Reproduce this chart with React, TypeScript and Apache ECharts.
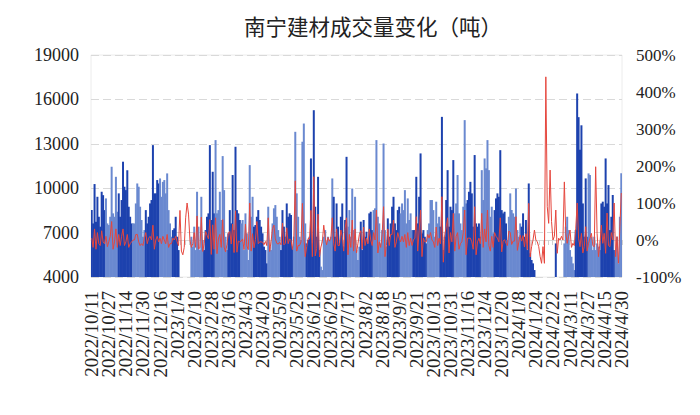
import React, { useEffect, useRef } from 'react';
import * as echarts from 'echarts';

const tickLabels = [
  '2022/10/11', '2022/10/27', '2022/11/14', '2022/11/30', '2022/12/16', '2023/1/4', '2023/2/10', '2023/2/28',
  '2023/3/16', '2023/4/3', '2023/4/20', '2023/5/9', '2023/5/25', '2023/6/12', '2023/6/29', '2023/7/17',
  '2023/8/2', '2023/8/18', '2023/9/5', '2023/9/21', '2023/10/13', '2023/10/31', '2023/11/16', '2023/12/4',
  '2023/12/20', '2024/1/8', '2024/1/24', '2024/2/22', '2024/3/11', '2024/3/27', '2024/4/15', '2024/4/30',
];

// daily volume (tons)
const volume = [
  8520, 7620, 10280, 7730, 9420, 8070, 7400, 9760, 9530, 8520,
  9310, 7620, 7510, 8070, 11450, 8300, 8070, 10770, 8410,
  9650, 8070, 9200, 11790, 10100, 9870, 11220, 8750, 8070, 7620,
  7620, 7620, 8970, 10320, 10100, 8750, 7850, 6720, 7170,
  8520, 7620, 8070, 8970, 9200, 12910, 9650, 9650, 10550, 10320,
  10660, 9420, 10430, 10550, 9650, 11000, 8520, 7620, 6720,
  7170, 7290, 8070, 6720, 5820,
  3300, 2300, 1400, 1200, 2000, 3600, 3000, 3500,
  6720, 6050, 7400, 5820, 9760, 7400, 5820, 9420, 6500,
  5820, 7170, 8070, 8300, 12910, 7850, 11110, 8300,
  13250, 8300, 8520, 9760, 7850, 12170, 9870, 6720, 5820,
  6950, 8520, 7620, 10890, 7170, 12800, 8520, 8300, 7850,
  7620, 7850, 5820, 8300, 6950, 5150, 11560, 8070, 9420,
  7400, 7510, 8070, 8520, 7850, 7400, 6950, 6050, 5820, 4920,
  8750, 6050, 5820, 7620, 8640, 8860, 8070, 7170, 6720,
  5820, 8520, 7400, 6720, 8970, 8070, 8300, 8190, 6050,
  6720, 13810, 9650, 8070, 6720, 6500, 13140, 14370, 7620,
  6270, 6500, 6720, 12010, 6270, 15270, 8750, 6720, 10770, 5820,
  4700, 4470, 6720, 7170, 6270, 6720, 6500, 6720, 10660,
  9420, 6720, 8970, 7400, 6270, 8070, 8970, 6050, 7850, 12120,
  7400, 8520, 6720, 9980, 7170, 9420, 5820, 5150, 6050,
  7740, 5820, 7850, 6720, 7060, 6270, 8300, 8410, 7170,
  8520, 8640, 13250, 8070, 7620, 6270, 7170, 13020, 7170, 6050,
  7960, 6720, 7620, 8750, 9420, 7620, 7170, 8520, 8750,
  8300, 8970, 8520, 9870, 7620, 9310, 7850, 8300, 7170,
  7170, 7170, 10770, 7620, 9420, 12350, 6950, 7170, 6720, 6270,
  7170, 7620, 9200, 9200, 8520, 6720, 9090, 7620, 8070,
  7400, 14820, 5820, 6720, 9200, 11220, 7400, 8750, 8520, 11900,
  8300, 8970, 10890, 8300, 7620, 7170, 8750, 14600, 8970,
  9200, 9760, 10430, 9650, 7400, 12240, 7620, 7400, 7620, 6720,
  11220, 9200, 12010, 11340, 13250, 11220, 8070, 8750, 6950,
  8520, 9310, 9650, 9420, 12570, 8520, 8300, 8410, 7620,
  6500, 8070, 9650, 8520, 8300, 8070, 9980, 7170, 6720, 7620,
  7400, 8300, 6720, 7850, 5820, 10320, 5600, 5150, 4920, 4470,
  3800, 3600, 3000, 1700, 600, 500, 200, 1100, 2000, 2900, 3500, 3700, 3600, 3400,
  6270,
  3600, 3700, 3500, 3600, 2500,
  6270, 7400, 8070, 7170, 5820, 5370, 4920, 4470,
  7170, 16400, 14800, 12600, 14250, 8970, 6720, 10660, 6720,
  11000, 10890, 6720, 5820, 6720, 5820, 6270, 6050, 5820,
  8970, 9090, 8750, 12010, 8970, 10210, 7170, 8070, 9540, 5820,
  5820, 6720, 4920, 8070, 11010,
];

// change (%)
const change = [
  5, -20, 30, -25, 20, -10, -15, 25, -5, -10, 10, -18,
  -5, 10, 50, -25, -5, 30, -20, 15, -15, 10, 30, -15,
  -5, 15, -20, -10, -5, 0, 0, 15, 15, -5, -15, -10,
  -15, 5, 20, -10, 5, 10, 0, 40, -25, 0, 10, -5,
  5, -10, 10, 0, -10, 15, -20, -10, -10, 5, 0, 10,
  -5, -15, 80, -30, -40, -20, 60, 100, 70, 0, -20, -10,
  20, -20, 65, -24, -21, 62, -31, -10, 23, 13, 3, 55,
  -39, 41, -25, 60, -37, 3, 15, -20, 55, -19, -32, -13,
  19, 23, -11, 43, -34, 79, -33, -3, -5, -3, 3, -26,
  43, -16, -26, 100, -30, 17, -21, 1, 50, -10, -5, -5,
  -6, -13, -4, -15, 60, -31, -4, 31, 40, 3, -9, -11,
  -6, -13, 46, -13, -9, 33, -10, 3, -1, -26, 11, 160,
  -30, -15, -15, -5, 99, 10, -45, -18, 4, 3, 80, -45,
  171, -43, -23, 70, -46, -19, -5, 40, 7, -13, 7, -3,
  5, 60, -10, -30, 30, -15, -15, 27, 10, -30, 30, 60,
  -40, 15, -20, 54, -30, 30, -35, -10, 15, 25, -25, 35,
  -15, 5, -10, 30, 0, -15, 20, 0, 81, -35, -5, -20,
  15, 90, -45, -15, 30, -15, 15, 15, 54, -20, -5, 20,
  5, -5, 10, -5, 15, -20, 20, -15, 5, -15, 0, 5,
  63, -30, 25, 81, -45, 5, -5, -5, 15, 5, 20, 0,
  -5, -20, 35, -15, 5, -10, 117, -60, 15, 35, 60, -35,
  20, -5, 72, -30, 10, 20, -25, -10, -5, 20, 81, -40,
  5, 5, 5, -5, -25, 90, -40, -5, 5, -10, 72, -20,
  30, -5, 81, -15, -30, 10, -20, 20, 10, 5, -5, 60,
  -32, -3, 1, -9, -15, 24, 20, -12, -3, -3, 63, -28,
  -6, 13, -3, 12, -19, 17, -26, 99, -46, -18, 0, 27,
  0, -5, -18, -45, -63, -18, -63, 441, 90, 45, 189, 50,
  0, 10, 81, -36, 5, 0, 10, 0, 157, 18, -9, 10,
  27, -20, -9, -15, 30, 100, 5, -18, 18, -35, -18, 36,
  -30, -9, 5, 18, -15, -18, 198, 18, -45, -10, 40, -9,
  18, -36, 73, -15, -18, 20, 0, 100, -45, 9, -63, 36,
  127,
];

// first category index of each colour block (blocks alternate dark / light)
const blockStarts = [
  0, 10, 19, 29, 38, 48, 57, 67, 79, 87, 96, 105, 114, 124, 133, 142, 151, 161, 170, 180,
  189, 198, 208, 217, 226, 236, 245, 255, 264, 274, 283, 292, 302, 312, 321, 332, 340, 349, 358, 368,
];

const LABEL_STEP = 12;
const categories = volume.map((_, i) =>
  i % LABEL_STEP === 0 ? tickLabels[i / LABEL_STEP] : `${tickLabels[Math.floor(i / LABEL_STEP)]}#${i % LABEL_STEP}`
);

const DARK = '#1D42AE';
const LIGHT = '#6A89D0';
const RED = '#E5463D';
const SERIF = '"Liberation Serif", "Times New Roman", serif';

function blockOf(i: number) {
  let b = 0;
  for (let k = 0; k < blockStarts.length; k++) if (i >= blockStarts[k]) b = k;
  return b;
}

export default function App() {
  const ref = useRef<HTMLDivElement>(null);
  useEffect(() => {
    if (!ref.current) return;
    const chart = echarts.init(ref.current, undefined, { renderer: 'svg' });
    chart.setOption({
      animation: false,
      backgroundColor: '#ffffff',
      title: {
        text: '南宁建材成交量变化（吨）',
        left: 239,
        top: 10,
        textStyle: { fontFamily: '"Noto Sans CJK SC", sans-serif', fontSize: 21.5, fontWeight: 'normal', color: '#222' },
      },
      grid: { left: 91, right: 78, top: 55, bottom: 138, show: true, borderColor: '#ececec', borderWidth: 1 },
      xAxis: {
        type: 'category',
        data: categories,
        boundaryGap: true,
        axisLine: { show: true, lineStyle: { color: '#d9d9d9' } },
        axisTick: { show: true, interval: 2, length: 5, lineStyle: { color: '#d0d0d0' } },
        axisLabel: {
          interval: 0,
          formatter: (v: string, i: number) => (i % LABEL_STEP === 0 ? v : ''),
          rotate: 90,
          margin: 14,
          hideOverlap: false,
          fontFamily: SERIF,
          fontSize: 19,
          color: '#222',
        },
        splitLine: { show: false },
      },
      yAxis: [
        {
          type: 'value',
          min: 4000,
          max: 19000,
          interval: 3000,
          axisLine: { show: false },
          axisTick: { show: false },
          axisLabel: { formatter: (v: number) => String(v), fontFamily: SERIF, fontSize: 18, color: '#222', margin: 12 },
          splitLine: { show: true, lineStyle: { color: '#d9d9d9', type: [8, 4], width: 1 } },
        },
        {
          type: 'value',
          min: -100,
          max: 500,
          interval: 100,
          position: 'right',
          axisLine: { show: false },
          axisTick: { show: false },
          axisLabel: { formatter: (v: number) => `${v}%`, fontFamily: SERIF, fontSize: 17, color: '#222', margin: 14 },
          splitLine: { show: false },
        },
      ],
      series: [
        {
          type: 'bar',
          data: volume,
          barWidth: 2,
          clip: true,
          itemStyle: {
            color: (p: any) => (blockOf(p.dataIndex) % 2 === 0 ? DARK : LIGHT),
          },
        },
        {
          type: 'line',
          yAxisIndex: 1,
          data: change,
          symbol: 'none',
          smooth: false,
          lineStyle: { color: RED, width: 1 },
          z: 5,
        },
      ],
    });
    return () => chart.dispose();
  }, []);
  return <div ref={ref} style={{ position: 'fixed', left: 0, top: 0, width: 700, height: 415 }} />;
}
